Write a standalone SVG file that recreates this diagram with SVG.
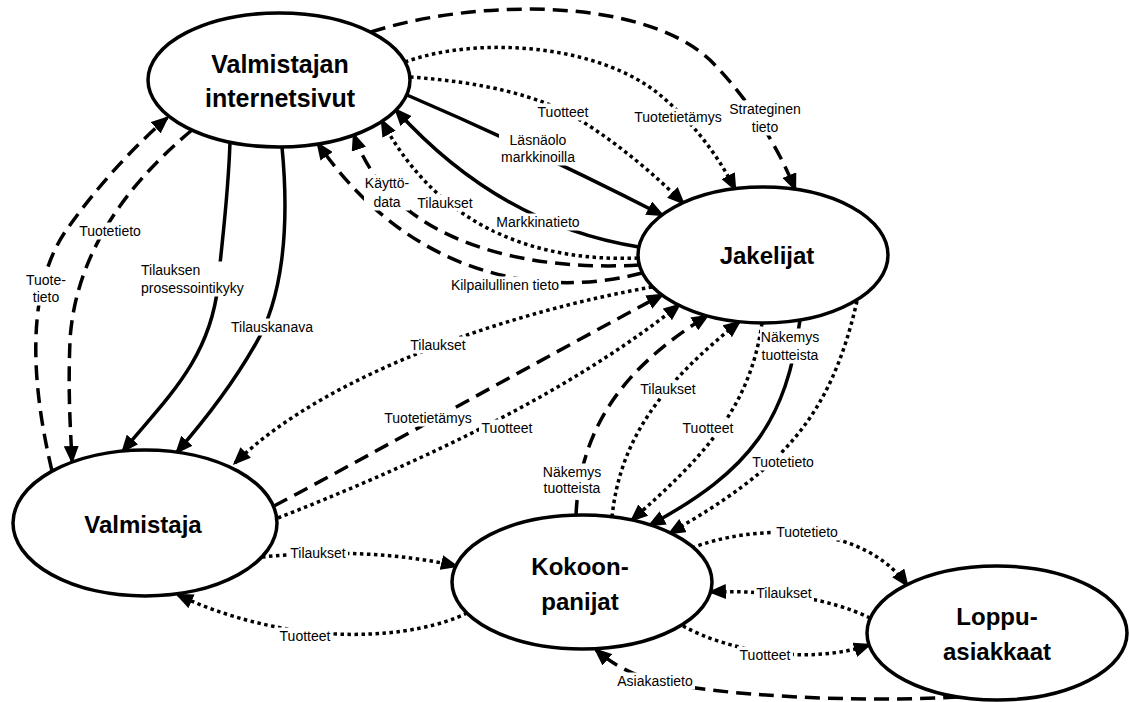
<svg xmlns="http://www.w3.org/2000/svg" width="1130" height="702" viewBox="0 0 1130 702">
  <defs>
    <marker id="arrow" viewBox="0 0 18 15" refX="15" refY="7.5" markerWidth="18" markerHeight="15" markerUnits="userSpaceOnUse" orient="auto">
      <path d="M0,0 L18,7.5 L0,15 z" fill="#000"/>
    </marker>
    <style>
      .solid { fill: none; stroke: #000; stroke-width: 3.5; }
      .dash { fill: none; stroke: #000; stroke-width: 3.5; stroke-dasharray: 15 8; }
      .dot { fill: none; stroke: #000; stroke-width: 3.5; stroke-dasharray: 3.5 3.5; }
      .arr { marker-end: url(#arrow); }
      .lbl rect { fill: #fff; }
      .lbl text { font-family: "Liberation Sans", Arial, sans-serif; font-size: 14px; fill: #000; text-anchor: middle; }
      .lbl text.left { text-anchor: start; }
      .node ellipse { fill: #fff; stroke: #000; stroke-width: 3.5; }
      .node text { font-family: "Liberation Sans", Arial, sans-serif; font-weight: bold; font-size: 24px; fill: #000; text-anchor: middle; }
    </style>
  </defs>

  <rect width="1130" height="702" fill="#fff"/>

  <!-- connectors -->
  <g id="connectors">
    <!-- internetsivut -> Jakelijat -->
    <path class="dash arr" d="M371,32 C470,0 640,-5 710,60 C745,95 775,140 795,189"/>
    <path class="dot arr" d="M405,62 C480,35 600,45 660,95 C690,120 715,150 735,189"/>
    <path class="dot arr" d="M410,77 C480,82 540,95 580,120 C620,145 655,175 683,203"/>
    <path class="solid arr" d="M407,95 Q535,150 662,215"/>
    <!-- Jakelijat -> internetsivut -->
    <path class="solid arr" d="M639,247 Q500,225 396,110"/>
    <path class="dot arr" d="M638,258 C540,262 440,230 382,121"/>
    <path class="dash arr" d="M639,265 C520,272 390,240 354,135"/>
    <path class="dash arr" d="M642,273 C560,295 420,290 318,144"/>
    <!-- Jakelijat <-> Valmistaja -->
    <path class="dot arr" d="M652,287 C520,310 330,370 235,463"/>
    <path class="dash arr" d="M274,506 C380,450 540,360 662,295"/>
    <path class="dot arr" d="M278,518 C400,470 560,400 679,305"/>
    <!-- Kokoonpanijat -> Jakelijat -->
    <path class="dash arr" d="M576,515 C580,430 620,370 707,316"/>
    <path class="dot arr" d="M612,517 C620,440 660,385 739,322"/>
    <!-- Jakelijat -> Kokoonpanijat -->
    <path class="dot arr" d="M762,323 C750,410 700,460 632,520"/>
    <path class="solid arr" d="M800,320 C786,420 752,470 650,525"/>
    <path class="dot arr" d="M857,301 C830,420 780,470 670,533"/>
    <!-- internetsivut <-> Valmistaja -->
    <path class="dash arr" d="M52,471 C28,370 28,280 70,225 C95,190 130,150 167,118"/>
    <path class="dash arr" d="M192,130 C120,190 75,260 70,340 C68,390 70,420 72,461"/>
    <path class="solid arr" d="M230,142 C228,200 222,240 218,285 C210,360 165,400 123,451"/>
    <path class="solid arr" d="M282,147 C290,230 282,300 255,345 C235,380 205,420 177,452"/>
    <!-- Valmistaja <-> Kokoonpanijat -->
    <path class="dot arr" d="M262,557 C330,550 400,553 456,566"/>
    <path class="dot arr" d="M467,613 C420,637 300,652 178,595"/>
    <!-- Kokoonpanijat <-> Loppuasiakkaat -->
    <path class="dot arr" d="M692,548 C750,525 860,520 907,585"/>
    <path class="dot arr" d="M870,618 C830,598 770,590 711,592"/>
    <path class="dot arr" d="M683,626 C730,652 810,665 869,645"/>
    <path class="dash arr" d="M958,697 C850,703 720,695 660,682 C630,675 610,662 596,650"/>
  </g>

  <!-- connector labels -->
  <g id="labels" class="lbl">
    <rect x="727" y="100.5" width="76" height="35"/>
    <text x="765" y="114">Strateginen</text>
    <text x="765" y="132">tieto</text>

    <rect x="632" y="108.5" width="92" height="17"/>
    <text x="678" y="122">Tuotetietämys</text>

    <rect x="535" y="103.5" width="56" height="17"/>
    <text x="563" y="117">Tuotteet</text>

    <rect x="499" y="131.5" width="78" height="34"/>
    <text x="538" y="145">Läsnäolo</text>
    <text x="538" y="162">markkinoilla</text>

    <rect x="494" y="213.5" width="88" height="17"/>
    <text x="538" y="227">Markkinatieto</text>

    <rect x="415" y="194.5" width="60" height="17"/>
    <text x="445" y="208">Tilaukset</text>

    <rect x="364" y="174.5" width="46" height="36"/>
    <text x="387" y="188">Käyttö-</text>
    <text x="387" y="207">data</text>

    <rect x="449" y="276.5" width="112" height="17"/>
    <text x="505" y="290">Kilpailullinen tieto</text>

    <rect x="408" y="336.5" width="60" height="17"/>
    <text x="438" y="350">Tilaukset</text>

    <rect x="382" y="409.5" width="92" height="17"/>
    <text x="428" y="423">Tuotetietämys</text>

    <rect x="479" y="419.5" width="56" height="17"/>
    <text x="507" y="433">Tuotteet</text>

    <rect x="541" y="463.5" width="62" height="33"/>
    <text x="572" y="477">Näkemys</text>
    <text x="572" y="493">tuotteista</text>

    <rect x="638" y="380.5" width="60" height="17"/>
    <text x="668" y="394">Tilaukset</text>

    <rect x="680" y="419.5" width="56" height="17"/>
    <text x="708" y="433">Tuotteet</text>

    <rect x="760" y="328.5" width="60" height="35"/>
    <text x="790" y="342">Näkemys</text>
    <text x="790" y="360">tuotteista</text>

    <rect x="750" y="453.5" width="66" height="17"/>
    <text x="783" y="467">Tuotetieto</text>

    <rect x="24" y="271.5" width="44" height="34"/>
    <text x="46" y="285">Tuote-</text>
    <text x="46" y="302">tieto</text>

    <rect x="77" y="222.5" width="66" height="17"/>
    <text x="110" y="236">Tuotetieto</text>

    <rect x="139" y="261.5" width="107" height="35"/>
    <text class="left" x="141" y="275">Tilauksen</text>
    <text class="left" x="141" y="293">prosessointikyky</text>

    <rect x="227" y="318.5" width="94" height="17"/>
    <text x="272" y="332">Tilauskanava</text>

    <rect x="288" y="544.5" width="60" height="17"/>
    <text x="318" y="558">Tilaukset</text>

    <rect x="277" y="627.5" width="56" height="17"/>
    <text x="305" y="641">Tuotteet</text>

    <rect x="774" y="523.5" width="66" height="17"/>
    <text x="807" y="537">Tuotetieto</text>

    <rect x="754" y="584.5" width="60" height="17"/>
    <text x="784" y="598">Tilaukset</text>

    <rect x="737" y="646.5" width="56" height="17"/>
    <text x="765" y="660">Tuotteet</text>

    <rect x="615" y="672.5" width="80" height="17"/>
    <text x="655" y="686">Asiakastieto</text>
  </g>

  <!-- nodes -->
  <g id="internetsivut" class="node">
    <ellipse cx="279" cy="80" rx="131" ry="67"/>
    <text x="280" y="73" style="font-size:25px">Valmistajan</text>
    <text x="280" y="107" style="font-size:25px">internetsivut</text>
  </g>
  <g id="jakelijat" class="node">
    <ellipse cx="763" cy="255" rx="125" ry="68"/>
    <text x="767" y="264">Jakelijat</text>
  </g>
  <g id="valmistaja" class="node">
    <ellipse cx="145" cy="523" rx="132" ry="73"/>
    <text x="143" y="533">Valmistaja</text>
  </g>
  <g id="kokoonpanijat" class="node">
    <ellipse cx="582" cy="582" rx="130" ry="67"/>
    <text x="580" y="575">Kokoon-</text>
    <text x="580" y="610">panijat</text>
  </g>
  <g id="loppuasiakkaat" class="node">
    <ellipse cx="997" cy="633" rx="130" ry="67"/>
    <text x="997" y="625">Loppu-</text>
    <text x="997" y="660">asiakkaat</text>
  </g>
</svg>
